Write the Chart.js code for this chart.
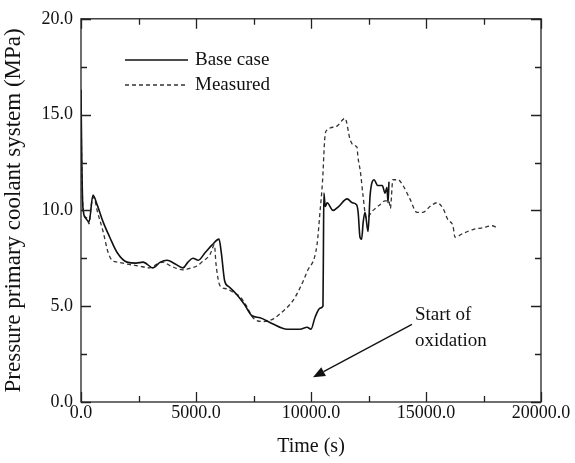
<!DOCTYPE html>
<html>
<head>
<meta charset="utf-8">
<script src="https://cdn.jsdelivr.net/npm/chart.js@4/dist/chart.umd.min.js"></script>
<style>
  html, body { margin: 0; padding: 0; background: #fff; }
  #wrap { width: 575px; height: 463px; }
</style>
</head>
<body>
<div id="wrap"><canvas id="chart" width="575" height="463"></canvas></div>
<script>
// Base case (solid)
const baseTime = [0, 30, 80, 200, 350, 520, 700, 960, 1250, 1570, 2000, 2400, 2700, 3130, 3450, 3740, 4100, 4430, 4650, 4870, 5100, 5400, 5700, 6000, 6100, 6250, 6450, 6780, 7100, 7430, 7780, 8300, 8960, 9520, 9830, 10000, 10170, 10400, 10520, 10540, 10560, 10620, 10700, 10960, 11200, 11570, 11800, 11980, 12050, 12130, 12200, 12270, 12350, 12480, 12570, 12740, 12900, 13100, 13220, 13300, 13350, 13390];
const basePress = [16.3, 13.0, 10.2, 9.6, 9.4, 10.8, 10.3, 9.4, 8.6, 7.8, 7.3, 7.25, 7.3, 7.0, 7.3, 7.4, 7.2, 7.0, 7.3, 7.5, 7.4, 7.8, 8.2, 8.5, 7.8, 6.3, 6.0, 5.6, 5.1, 4.5, 4.4, 4.1, 3.8, 3.8, 3.9, 3.8, 4.4, 4.9, 5.0, 8.0, 10.9, 10.2, 10.4, 10.0, 10.2, 10.6, 10.4, 10.3, 9.9, 8.6, 8.5, 9.4, 9.9, 8.9, 10.8, 11.6, 11.3, 11.3, 10.9, 11.2, 10.4, 11.5];

// Measured (dashed)
const measTime = [0, 30, 100, 250, 350, 450, 560, 700, 960, 1180, 1350, 1600, 2000, 2500, 3000, 3300, 3570, 3900, 4430, 4800, 5040, 5250, 5610, 5800, 5870, 6000, 6090, 6350, 6650, 6910, 7200, 7480, 7910, 8300, 8650, 9220, 9500, 9830, 10260, 10390, 10500, 10610, 10700, 10830, 11130, 11480, 11700, 11850, 12000, 12040, 12150, 12260, 12400, 12700, 13000, 13220, 13390, 13450, 13560, 13780, 14000, 14300, 14610, 14870, 15170, 15480, 15740, 15960, 16170, 16260, 16610, 17040, 17480, 17870, 18090];
const measPress = [16.3, 12.5, 10.0, 9.6, 9.3, 10.3, 10.7, 10.0, 8.9, 7.8, 7.4, 7.3, 7.2, 7.1, 7.0, 7.2, 7.3, 7.1, 6.9, 7.0, 7.1, 7.3, 7.7, 8.2, 7.2, 6.2, 6.0, 5.9, 5.7, 5.5, 5.0, 4.4, 4.2, 4.3, 4.6, 5.3, 5.9, 6.8, 8.2, 9.9, 11.5, 13.9, 14.2, 14.3, 14.4, 14.8, 13.7, 13.4, 13.3, 12.8, 12.0, 10.8, 9.6, 10.0, 10.3, 10.5, 10.5, 10.1, 11.6, 11.6, 11.3, 10.6, 9.9, 9.9, 10.2, 10.4, 10.1, 9.5, 9.2, 8.6, 8.8, 9.0, 9.1, 9.2, 9.1];

const seriesNames = ["Base case", "Measured"];
const xTicksMajor = [0, 5000, 10000, 15000, 20000];
const yTicksMajor = [0, 5, 10, 15, 20];

// annotation: arrow tail / head, text anchor (data units)
const noteLines = ["Start of", "oxidation"];
const noteText = { x: 14520, y: 4.3 };
const noteArrow = { x1: 14390, y1: 4.05, x2: 10087, y2: 1.29 };

const serif = "'Liberation Serif', 'Times New Roman', serif";

function toPoints(xs, ys) {
  return xs.map((x, i) => ({ x: x, y: ys[i] }));
}

// inward ticks on all four sides + frame
const frameTicks = {
  id: "frameTicks",
  afterDraw(chart) {
    const { ctx, chartArea: a, scales } = chart;
    ctx.save();
    ctx.strokeStyle = "#222";
    ctx.lineWidth = 1.3;
    ctx.strokeRect(a.left, a.top, a.right - a.left, a.bottom - a.top);
    scales.x.ticks.forEach(t => {
      const px = Math.round(scales.x.getPixelForValue(t.value)) + 0.5;
      const len = xTicksMajor.includes(t.value) ? 10 : 6;
      ctx.beginPath();
      ctx.moveTo(px, a.bottom); ctx.lineTo(px, a.bottom - len);
      ctx.moveTo(px, a.top); ctx.lineTo(px, a.top + len);
      ctx.stroke();
    });
    scales.y.ticks.forEach(t => {
      const py = Math.round(scales.y.getPixelForValue(t.value)) + 0.5;
      const len = yTicksMajor.includes(t.value) ? 10 : 6;
      ctx.beginPath();
      ctx.moveTo(a.left, py); ctx.lineTo(a.left + len, py);
      ctx.moveTo(a.right, py); ctx.lineTo(a.right - len, py);
      ctx.stroke();
    });
    ctx.restore();
  }
};

// legend inside plot + annotation arrow
const extras = {
  id: "extras",
  afterDatasetsDraw(chart) {
    const { ctx, scales } = chart;
    const xs = scales.x, ys = scales.y;
    ctx.save();
    ctx.font = "19px " + serif;
    ctx.fillStyle = "#111";
    ctx.textBaseline = "middle";
    chart.data.datasets.forEach((ds, i) => {
      const y = 60 + i * 25;
      ctx.beginPath();
      ctx.strokeStyle = ds.borderColor;
      ctx.lineWidth = ds.borderWidth;
      ctx.setLineDash(ds.borderDash || []);
      ctx.moveTo(125, y); ctx.lineTo(188, y);
      ctx.stroke();
      ctx.setLineDash([]);
      ctx.fillText(ds.label, 195, y);
    });

    // annotation
    const tx = xs.getPixelForValue(noteText.x);
    const ty = ys.getPixelForValue(noteText.y);
    ctx.textBaseline = "alphabetic";
    noteLines.forEach((s, i) => ctx.fillText(s, tx, ty + i * 26));

    const x1 = xs.getPixelForValue(noteArrow.x1), y1 = ys.getPixelForValue(noteArrow.y1);
    const x2 = xs.getPixelForValue(noteArrow.x2), y2 = ys.getPixelForValue(noteArrow.y2);
    const ang = Math.atan2(y2 - y1, x2 - x1);
    const hl = 12, hw = 5;
    ctx.strokeStyle = "#111";
    ctx.lineWidth = 1.3;
    ctx.beginPath();
    ctx.moveTo(x1, y1);
    ctx.lineTo(x2 - hl * Math.cos(ang), y2 - hl * Math.sin(ang));
    ctx.stroke();
    ctx.beginPath();
    ctx.moveTo(x2, y2);
    ctx.lineTo(x2 - hl * Math.cos(ang) + hw * Math.sin(ang), y2 - hl * Math.sin(ang) - hw * Math.cos(ang));
    ctx.lineTo(x2 - hl * Math.cos(ang) - hw * Math.sin(ang), y2 - hl * Math.sin(ang) + hw * Math.cos(ang));
    ctx.closePath();
    ctx.fillStyle = "#111";
    ctx.fill();
    ctx.restore();
  }
};

const ctx = document.getElementById("chart").getContext("2d");
const chart = new Chart(ctx, {
  type: "line",
  data: {
    datasets: [
      { label: seriesNames[0], data: toPoints(baseTime, basePress), borderColor: "#111", borderWidth: 1.6, pointRadius: 0, cubicInterpolationMode: "monotone" },
      { label: seriesNames[1], data: toPoints(measTime, measPress), borderColor: "#333", borderWidth: 1.3, borderDash: [4, 3], pointRadius: 0, cubicInterpolationMode: "monotone" }
    ]
  },
  options: {
    responsive: false,
    animation: false,
    events: [],
    layout: { padding: { top: 14, right: 34, left: 0, bottom: 0 } },
    plugins: { legend: { display: false }, tooltip: { enabled: false } },
    scales: {
      x: {
        type: "linear", min: 0, max: 20000,
        grid: { display: false, drawTicks: false },
        border: { display: false },
        ticks: {
          stepSize: 2500, padding: 0, color: "#111", maxRotation: 0, autoSkip: false,
          font: { family: serif, size: 18 },
          callback: v => xTicksMajor.includes(v) ? v.toFixed(1) : ""
        },
        title: { display: true, text: "Time (s)", color: "#111", font: { family: serif, size: 20 }, padding: { top: 4, bottom: 4 } },
        afterFit: s => { s.height = 61; }
      },
      y: {
        type: "linear", min: 0, max: 20,
        grid: { display: false, drawTicks: false },
        border: { display: false },
        ticks: {
          stepSize: 2.5, padding: 8, color: "#111", autoSkip: false,
          font: { family: serif, size: 18 },
          callback: v => yTicksMajor.includes(v) ? v.toFixed(1) : ""
        },
        title: { display: true, text: "Pressure primary coolant system (MPa)", color: "#111", font: { family: serif, size: 23 }, padding: { top: 0, bottom: 4 } },
        afterFit: s => { s.width = 81; }
      }
    }
  },
  plugins: [frameTicks, extras]
});
</script>
</body>
</html>
